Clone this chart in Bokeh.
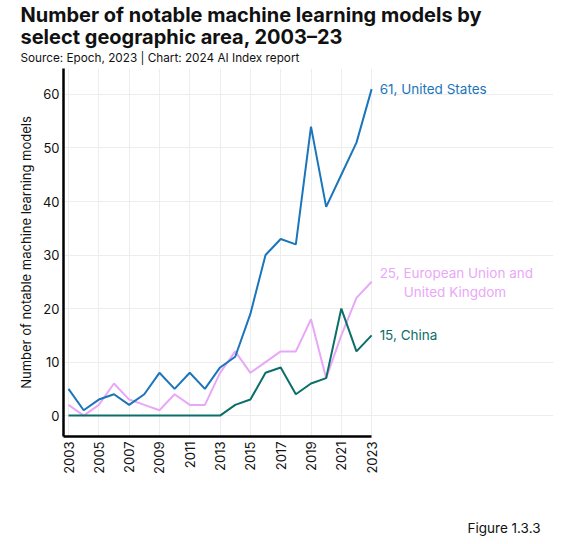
from bokeh.plotting import figure
from bokeh.models import (Label, ColumnDataSource, FixedTicker, Range1d, Title,
                          LinearAxis)
from bokeh.embed import file_html
from bokeh.resources import INLINE

years = list(range(2003, 2024))
us = [5, 1, 3, 4, 2, 4, 8, 5, 8, 5, 9, 11, 19, 30, 33, 32, 54, 39, 45, 51, 61]
eu = [2, 0, 2, 6, 3, 2, 1, 4, 2, 2, 8, 12, 8, 10, 12, 12, 18, 7, 15, 22, 25]
china = [0, 0, 0, 0, 0, 0, 0, 0, 0, 0, 0, 2, 3, 8, 9, 4, 6, 7, 20, 12, 15]
x_ticks = list(range(2003, 2024, 2))
y_ticks = [0, 10, 20, 30, 40, 50, 60]

title_lines = ["Number of notable machine learning models by",
               "select geographic area, 2003\u201323"]
subtitle = "Source: Epoch, 2023 | Chart: 2024 AI Index report"
y_label = "Number of notable machine learning models"
figure_note = "Figure 1.3.3"

C_US = "#1b75bb"
C_EU = "#e9a8f7"
C_CN = "#0b6e69"
TXT = "#111111"
FONT = "Inter"

W, H = 558, 542
X0, X1 = 2002.67, 2023.0
p = figure(width=W, height=H, output_backend="svg", toolbar_location=None,
           x_range=Range1d(X0, 2035.0), y_range=Range1d(-3.9, 64.85),
           min_border_left=63, min_border_right=5, min_border_top=68,
           min_border_bottom=0)
p.title.visible = False
p.outline_line_color = None
p.background_fill_color = "white"
p.border_fill_color = "white"

p.xgrid.grid_line_color = "#ededed"
p.ygrid.grid_line_color = "#ededed"
p.xgrid.ticker = FixedTicker(ticks=x_ticks)
p.ygrid.ticker = FixedTicker(ticks=y_ticks)
p.ygrid.bounds = (X0, X1)

p.xaxis.ticker = FixedTicker(ticks=x_ticks)
p.yaxis.ticker = FixedTicker(ticks=y_ticks)
p.xaxis.bounds = (X0, X1)
for ax in (p.xaxis, p.yaxis):
    ax.axis_line_color = "black"
    ax.axis_line_width = 2.5
    ax.major_tick_line_color = None
    ax.minor_tick_line_color = None
    ax.major_tick_out = 0
    ax.major_tick_in = 0
    ax.major_label_text_font = FONT
    ax.major_label_text_font_size = "13px"
    ax.major_label_text_color = TXT
p.xaxis.major_label_orientation = 1.5708
p.xaxis.major_label_standoff = 5
p.yaxis.major_label_standoff = 4
p.yaxis.axis_label = y_label
p.yaxis.axis_label_text_font = FONT
p.yaxis.axis_label_text_font_size = "13px"
p.yaxis.axis_label_text_font_style = "normal"
p.yaxis.axis_label_text_color = TXT
p.yaxis.axis_label_standoff = 6

src = ColumnDataSource(dict(x=years, us=us, eu=eu, cn=china))
p.line("x", "eu", source=src, line_color=C_EU, line_width=2)
p.line("x", "cn", source=src, line_color=C_CN, line_width=2)
p.line("x", "us", source=src, line_color=C_US, line_width=2)

last = years[-1]
LFS = "13.5px"
p.add_layout(Label(x=last, y=us[-1], x_offset=8, text=f"{us[-1]}, United States",
                   text_color=C_US, text_font=FONT, text_font_size=LFS,
                   text_baseline="middle"))
p.add_layout(Label(x=last, y=eu[-1], x_offset=8, y_offset=9,
                   text=f"{eu[-1]}, European Union and",
                   text_color=C_EU, text_font=FONT, text_font_size=LFS,
                   text_baseline="middle"))
p.add_layout(Label(x=last, y=eu[-1], x_offset=32, y_offset=-10,
                   text="United Kingdom",
                   text_color=C_EU, text_font=FONT, text_font_size=LFS,
                   text_baseline="middle"))
p.add_layout(Label(x=last, y=china[-1], x_offset=8, text=f"{china[-1]}, China",
                   text_color=C_CN, text_font=FONT, text_font_size=LFS,
                   text_baseline="middle"))

# title block: added nearest-first
p.add_layout(Title(text=subtitle, align="left", offset=-43, text_font=FONT,
                   text_font_size="11.75px", text_font_style="normal",
                   text_color=TXT, standoff=7), "above")
p.add_layout(Title(text=title_lines[1], align="left", offset=-43, text_font=FONT,
                   text_font_size="20px", text_font_style="bold",
                   text_color=TXT, standoff=-6.5), "above")
p.add_layout(Title(text=title_lines[0], align="left", offset=-43, text_font=FONT,
                   text_font_size="20px", text_font_style="bold",
                   text_color=TXT, standoff=-2), "above")

# invisible spacer axis between the year labels and the figure number
spacer = LinearAxis(ticker=FixedTicker(ticks=[x_ticks[0]]), axis_line_color=None,
                    major_tick_line_color=None, minor_tick_line_color=None,
                    major_tick_out=34, major_tick_in=0, major_label_standoff=0,
                    major_label_overrides={x_ticks[0]: ""})
p.add_layout(spacer, "below")

p.add_layout(Title(text=figure_note, align="right", offset=13, text_font=FONT,
                   text_font_size="13.5px", text_font_style="normal",
                   text_color=TXT, standoff=14), "below")

open("out.html", "w").write(file_html(p, INLINE))
